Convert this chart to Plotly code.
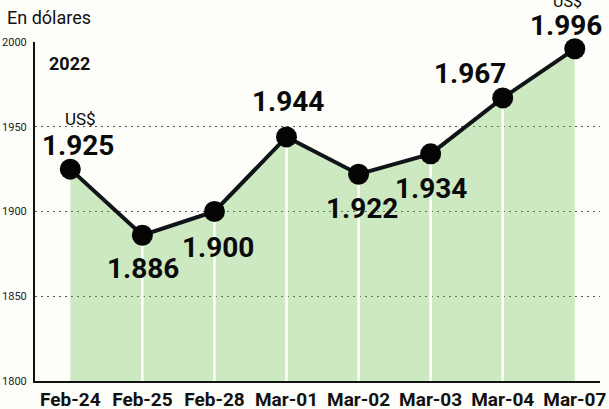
import plotly.graph_objects as go

categories = ["Feb-24", "Feb-25", "Feb-28", "Mar-01", "Mar-02", "Mar-03", "Mar-04", "Mar-07"]
values = [1925, 1886, 1900, 1944, 1922, 1934, 1967, 1996]
y_ticks = [1800, 1850, 1900, 1950, 2000]

# label offsets (pixels) relative to each point: style only
label_dx = [8, 1, 4, 1, 3, 0, -33, -9]
label_dy = [24, -33, -36, 35, -34, -35, 24, 23]
usd_dy = {0: 50, 7: 47}

def fmt(v):
    s = f"{v:,}"
    return s.replace(",", ".")

fig = go.Figure()

# fill area
fig.add_trace(go.Scatter(
    x=categories, y=values, mode="lines", line=dict(width=0),
    fill="tozeroy", fillcolor="rgba(110,195,80,0.33)", hoverinfo="skip",
    showlegend=False))

# white vertical separators under the line
vx, vy = [], []
for c, v in zip(categories[1:-1], values[1:-1]):
    vx += [c, c, None]
    vy += [1800, v, None]
fig.add_trace(go.Scatter(x=vx, y=vy, mode="lines",
                         line=dict(color="white", width=2.5),
                         hoverinfo="skip", showlegend=False))

# main line and markers
fig.add_trace(go.Scatter(
    x=categories, y=values, mode="lines+markers",
    line=dict(color="#101318", width=4),
    marker=dict(color="#050505", size=21),
    cliponaxis=False, showlegend=False))

annotations = []
for i, (c, v) in enumerate(zip(categories, values)):
    annotations.append(dict(
        x=c, y=v, xref="x", yref="y", text=fmt(v), showarrow=False,
        xshift=label_dx[i], yshift=label_dy[i],
        font=dict(family="Roboto", size=28, color="#0a0a0a", weight="bold")))
    if i in usd_dy:
        annotations.append(dict(
            x=c, y=v, xref="x", yref="y", text="US$", showarrow=False,
            xshift=label_dx[i] + 2, yshift=usd_dy[i],
            font=dict(family="Roboto", size=16 if i else 17, color="#0a0a0a")))

annotations.append(dict(x=-0.053, y=1.071, xref="paper", yref="paper",
                        xanchor="left", yanchor="middle", showarrow=False,
                        text="En dólares",
                        font=dict(family="Roboto", size=18, color="#111")))
annotations.append(dict(x=0.021, y=0.938, xref="paper", yref="paper",
                        xanchor="left", yanchor="middle", showarrow=False,
                        text="2022",
                        font=dict(family="Roboto", size=18, color="#111", weight="bold")))

fig.update_layout(
    width=609, height=409,
    margin=dict(l=35, r=9, t=42, b=28),
    paper_bgcolor="#fdfdf9", plot_bgcolor="rgba(0,0,0,0)",
    annotations=annotations,
    xaxis=dict(type="category", range=[-0.49, 7.35], showgrid=False,
               showline=True, linecolor="#111", linewidth=2, automargin=False,
               ticks="", ticklabelstandoff=0,
               tickfont=dict(family="Roboto", size=19, color="#111", weight="bold"),
               fixedrange=True),
    yaxis=dict(range=[1800, 2000], tickvals=y_ticks, automargin=False,
               showgrid=True, gridcolor="#555", griddash="2px,4px", gridwidth=1,
               showline=True, linecolor="#111", linewidth=2,
               ticks="", ticklabelstandoff=4,
               tickfont=dict(family="Roboto", size=11, color="#222"),
               zeroline=False, fixedrange=True),
)

fig.write_html("out.html", config={"displayModeBar": False},
               post_script="document.body.style.margin='0';document.body.style.overflow='hidden';")
